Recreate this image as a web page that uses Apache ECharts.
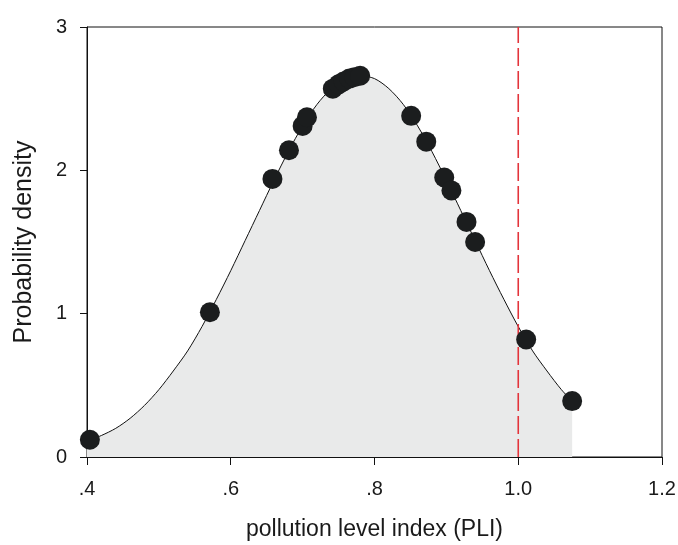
<!DOCTYPE html>
<html>
<head>
<meta charset="utf-8">
<script src="https://cdn.jsdelivr.net/npm/echarts@6/dist/echarts.min.js"></script>
<style>html,body{margin:0;padding:0;background:#fff}#c{width:678px;height:545px}</style>
</head>
<body>
<div id="c"></div>
<script>
// Density curve
const curveX = [0.40,0.42,0.44,0.46,0.48,0.50,0.52,0.54,0.56,0.58,0.60,0.62,0.64,0.66,0.68,0.70,0.72,0.74,0.76,0.78,0.80,0.82,0.84,0.86,0.88,0.90,0.92,0.94,0.96,0.98,1.00,1.02,1.04,1.06,1.075];
const curveY = [0.11,0.15,0.20,0.27,0.36,0.47,0.60,0.74,0.91,1.10,1.30,1.51,1.72,1.93,2.13,2.31,2.46,2.57,2.64,2.66,2.64,2.57,2.46,2.31,2.13,1.93,1.72,1.51,1.30,1.10,0.91,0.74,0.60,0.47,0.39];
// Sample points
const pointX = [0.404,0.571,0.658,0.681,0.700,0.706,0.742,0.750,0.757,0.765,0.772,0.780,0.851,0.872,0.897,0.907,0.928,0.940,1.011,1.075];
const pointY = [0.12,1.01,1.94,2.14,2.31,2.37,2.57,2.60,2.62,2.64,2.65,2.66,2.38,2.20,1.95,1.86,1.64,1.50,0.82,0.39];
// Threshold
const thresholdX = 1.0;
const xTicks = {0.4:'.4',0.6:'.6',0.8:'.8',1:'1.0',1.2:'1.2'};

const font = 'Liberation Sans, Arial, sans-serif';
const chart = echarts.init(document.getElementById('c'));
chart.setOption({
  animation: false,
  grid: {left: 87, right: 16, top: 27, bottom: 88, outerBoundsMode: 'none', containLabel: false,
    show: true, borderColor: '#111', borderWidth: 1, backgroundColor: 'transparent'},
  xAxis: {
    type: 'value', min: 0.4, max: 1.2, interval: 0.2,
    name: 'pollution level index (PLI)', nameLocation: 'middle', nameGap: 61,
    nameTextStyle: {fontFamily: font, fontSize: 23, color: '#1a1a1a'},
    axisLine: {lineStyle: {color: '#111', width: 1}},
    axisTick: {length: 8, lineStyle: {color: '#111'}},
    axisLabel: {fontFamily: font, fontSize: 20, color: '#1a1a1a', margin: 22,
      formatter: v => xTicks[Math.round(v*10)/10] || ''},
    splitLine: {show: false}
  },
  yAxis: {
    type: 'value', min: 0, max: 3, interval: 1,
    name: 'Probability density', nameLocation: 'middle', nameGap: 50,
    nameTextStyle: {fontFamily: font, fontSize: 25, color: '#1a1a1a'},
    axisLine: {show: true, lineStyle: {color: '#111', width: 1}},
    axisTick: {show: true, length: 7, lineStyle: {color: '#111'}},
    axisLabel: {fontFamily: font, fontSize: 20, color: '#1a1a1a', margin: 20},
    splitLine: {show: false}
  },
  series: [
    {
      type: 'line', smooth: 0.3, showSymbol: false, z: 2,
      data: curveX.map((x, i) => [x, curveY[i]]),
      lineStyle: {color: '#111', width: 1},
      areaStyle: {color: '#e9eaea', opacity: 1}
    },
    {
      type: 'line', showSymbol: false, z: 3,
      data: [[thresholdX, 0], [thresholdX, 3]],
      lineStyle: {color: '#e3343b', width: 1.6, type: [18, 5]}
    },
    {
      type: 'scatter', symbolSize: 20, z: 4,
      data: pointX.map((x, i) => [x, pointY[i]]),
      itemStyle: {color: '#1b1d1e', opacity: 1}
    }
  ]
});
</script>
</body>
</html>
